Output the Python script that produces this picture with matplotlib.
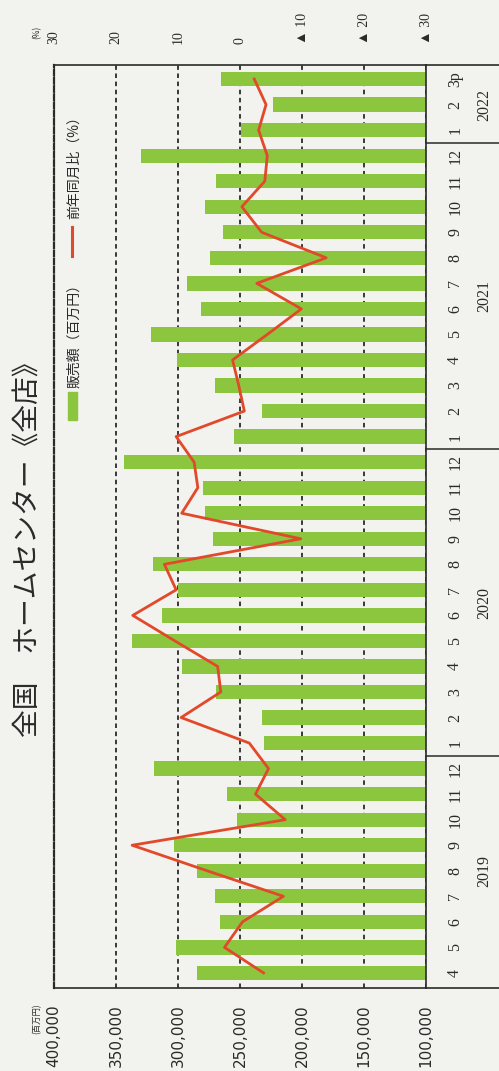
import matplotlib
matplotlib.use('Agg')
import matplotlib.pyplot as plt
from matplotlib.patches import Rectangle
from matplotlib.lines import Line2D
from matplotlib.transforms import blended_transform_factory

plt.rcParams['font.family'] = ['Noto Sans CJK JP', 'DejaVu Sans']

# monthly data, 2019-04 .. 2022-03 (3p = preliminary)
months = ['4', '5', '6', '7', '8', '9', '10', '11', '12',
          '1', '2', '3', '4', '5', '6', '7', '8', '9', '10', '11', '12',
          '1', '2', '3', '4', '5', '6', '7', '8', '9', '10', '11', '12',
          '1', '2', '3p']
sales = [285000, 301500, 266500, 270500, 285000, 303000, 252500, 260500, 319000,
         231000, 232500, 269500, 296500, 337500, 313000, 300000, 320500, 272000,
         278000, 280000, 343500,
         254500, 232000, 270500, 301000, 321500, 281500, 292500, 274500, 264000,
         278000, 269500, 330000,
         249000, 223500, 265500]
yoy = [-3.8, 2.5, -0.4, -7.0, 5.3, 17.4, -7.3, -2.5, -4.6,
       -1.5, 9.5, 3.1, 3.6, 10.5, 17.3, 10.3, 12.2, -9.8, 9.4, 6.8, 7.4,
       10.3, -0.7, 0.2, 1.2, -4.4, -9.9, -2.7, -13.9, -3.5, -0.3, -4.0, -4.4,
       -3.0, -4.2, -2.3]
years = ['2019', '2020', '2021', '2022']
year_first = [0, 9, 21, 33]
year_last = [8, 20, 32, 35]

sales_ticks = [400000, 350000, 300000, 250000, 200000, 150000, 100000]
sales_labels = ['400,000', '350,000', '300,000', '250,000', '200,000', '150,000', '100,000']
pct_ticks = [30, 20, 10, 0, -10, -20, -30]
pct_labels = ['30', '20', '10', '0', '▲ 10', '▲ 20', '▲ 30']

W, H = 499, 1071
def fx(px):
    return px / W
def fy(py):
    return 1 - py / H

bg = '#f2f2ee'
green = '#8cc63f'
red = '#e2492b'
ink = '#2a2a2a'
serif = ['Liberation Serif', 'DejaVu Sans']

fig = plt.figure(figsize=(W / 100, H / 100), dpi=100, facecolor=bg)
ax = fig.add_axes([fx(54), fy(988), (426 - 54) / W, (988 - 65) / H])
ax.set_facecolor(bg)

idx = list(range(len(sales)))
ax.barh(idx, sales, height=0.56, color=green, zorder=2)
ax.set_xlim(400000, 100000)
ax.set_ylim(-0.59, 35.55)

# dashed vertical grid at sales ticks
ax.set_xticks(sales_ticks)
ax.grid(axis='x', linestyle=(0, (2.5, 2)), color=ink, lw=1.3, zorder=1)
ax.set_axisbelow(True)
ax.tick_params(axis='x', length=0, pad=12)
ax.set_xticklabels(sales_labels, rotation=90, fontsize=11, family='DejaVu Sans', color=ink)

# month labels on the right
ax.yaxis.tick_right()
ax.set_yticks(idx)
ax.tick_params(axis='y', length=0, pad=21)
ax.set_yticklabels(months, rotation=90, ha='center', va='center', fontsize=11.5,
                   family=serif, color=ink)

for s in ['top', 'bottom', 'right']:
    ax.spines[s].set_color(ink)
    ax.spines[s].set_linewidth(1.2)
ax.spines['left'].set_color(ink)
ax.spines['left'].set_linewidth(1.6)
ax.spines['left'].set_linestyle((0, (2.5, 1.2)))

# year labels and separators outside the right spine
bt = blended_transform_factory(ax.transAxes, ax.transData)
for yr, a, b in zip(years, year_first, year_last):
    ax.text(1.157, (a + b) / 2, yr, transform=bt, rotation=90, ha='center', va='center',
            fontsize=11.5, family=serif, color=ink)
for b in year_last[:-1]:
    ax.plot([1, 1.196], [b + 0.5, b + 0.5], transform=bt, color=ink, lw=1.1, clip_on=False)
for yy in [0, 1]:
    ax.plot([1, 1.196], [yy, yy], transform=ax.transAxes, color=ink, lw=1.2, clip_on=False)

# YoY line on the top (percent) axis
ax2 = ax.twiny()
ax2.plot(yoy, idx, color=red, lw=2.0, zorder=3)
ax2.set_xlim(30, -30)
ax2.set_xticks(pct_ticks)
ax2.tick_params(axis='x', length=0, pad=15)
ax2.set_xticklabels(pct_labels, rotation=90, fontsize=10, family=serif, color=ink)
for s in ax2.spines.values():
    s.set_visible(False)

# unit labels
fig.text(fx(37), fy(1003), '(百万円)', rotation=90, ha='center', va='top', fontsize=6, color=ink)
fig.text(fx(37), fy(39), '(%)', rotation=90, ha='center', va='bottom', fontsize=6, color=ink)

# title
fig.text(fx(28), fy(737), '全国\u3000ホームセンター《全店》', rotation=90, ha='center', va='bottom',
         fontsize=20, color=ink)

# legend (drawn by hand, rotated)
fig.add_artist(Rectangle((fx(68), fy(420)), 9 / W, 28 / H, transform=fig.transFigure,
                         color=green, zorder=3))
fig.text(fx(74), fy(388), '販売額（百万円）', rotation=90, ha='center', va='bottom',
         fontsize=10, color=ink)
fig.add_artist(Line2D([fx(72), fx(72)], [fy(256), fy(227)], transform=fig.transFigure,
                      color=red, lw=2.2))
fig.text(fx(74), fy(219), '前年同月比（%）', rotation=90, ha='center', va='bottom',
         fontsize=10, color=ink)

fig.savefig('out.png', dpi=100, facecolor=bg)
